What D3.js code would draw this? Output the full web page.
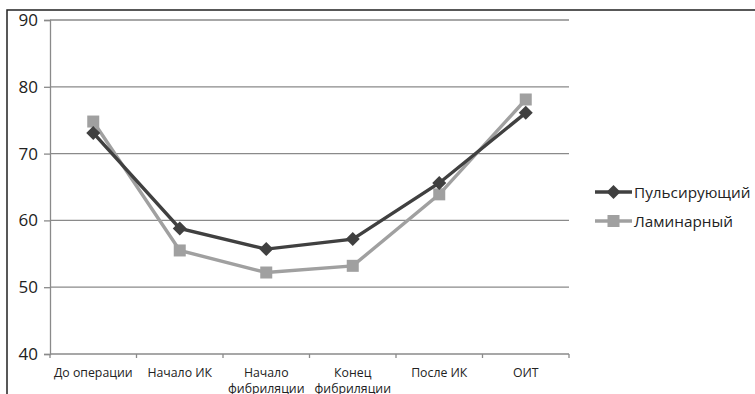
<!DOCTYPE html>
<html><head><meta charset="utf-8">
<script src="https://cdn.jsdelivr.net/npm/d3@7"></script>
<style>body{margin:0;background:#fff;} svg{display:block;}</style>
</head><body>
<svg id="c" width="755" height="394"></svg>
<script>
const categories = [["До операции"],["Начало ИК"],["Начало","фибриляции"],["Конец","фибриляции"],["После ИК"],["ОИТ"]];
const pulsating = [73.1, 58.8, 55.7, 57.2, 65.6, 76.1];
const laminar = [74.8, 55.5, 52.2, 53.2, 63.9, 78.1];
const seriesNames = ["Пульсирующий","Ламинарный"];
const yTicks = [40,50,60,70,80,90];

const svg = d3.select("#c");
const font = "'Open Sans', 'Noto Sans', sans-serif";
// outer border
svg.append("path").attr("d","M7,394 V10 H755").attr("fill","none").attr("stroke","#222").attr("stroke-width",1.5);

const x = d3.scaleBand().domain(d3.range(categories.length)).range([50,569]);
const y = d3.scaleLinear().domain([40,90]).range([354,20]);

// gridlines
svg.append("g").selectAll("line").data(yTicks.slice(1)).join("line")
  .attr("x1",50).attr("x2",569).attr("y1",d=>y(d)).attr("y2",d=>y(d))
  .attr("stroke","#8a8a8a").attr("stroke-width",1.3);

// y axis
const ya = svg.append("g").attr("transform","translate(50,0)")
  .call(d3.axisLeft(y).tickValues(yTicks).tickSize(6).tickPadding(6));
ya.select(".domain").attr("stroke","#8a8a8a").attr("stroke-width",1.3);
ya.selectAll(".tick line").attr("stroke","#8a8a8a").attr("stroke-width",1.3);
ya.selectAll("text").attr("font-family",font).attr("font-size",17).attr("fill","#222");

// x axis
const xa = svg.append("g").attr("transform","translate(0,354)");
xa.append("line").attr("x1",50).attr("x2",569).attr("stroke","#8a8a8a").attr("stroke-width",1.3);
const bounds = d3.range(categories.length+1).map(i=> i<categories.length ? x(i) : x(i-1)+x.bandwidth());
xa.selectAll("line.t").data(bounds).join("line").attr("class","t")
  .attr("x1",d=>d).attr("x2",d=>d).attr("y1",0).attr("y2",4)
  .attr("stroke","#8a8a8a").attr("stroke-width",1.3);
const labelRows = [];
categories.forEach((d,i)=>d.forEach((s,k)=>labelRows.push({i,k,s})));
xa.selectAll("text").data(labelRows).join("text")
  .attr("x",d=>x(d.i)+x.bandwidth()/2).attr("y",d=>23+d.k*16)
  .attr("text-anchor","middle").attr("font-family",font).attr("font-size",12.3).attr("fill","#222")
  .text(d=>d.s);

const cx = i => x(i)+x.bandwidth()/2;
const line = d3.line().x((d,i)=>cx(i)).y(d=>y(d));
const colors = ["#404040","#a0a0a0"];
const dia = "M0,-7L7,0L0,7L-7,0Z";

// laminar series
svg.append("path").datum(laminar).attr("d",line).attr("fill","none").attr("stroke",colors[1]).attr("stroke-width",3.4);
svg.append("g").selectAll("rect").data(laminar).join("rect")
  .attr("x",(d,i)=>cx(i)-6).attr("y",d=>y(d)-6).attr("width",12).attr("height",12).attr("fill",colors[1]);
// pulsating series
svg.append("path").datum(pulsating).attr("d",line).attr("fill","none").attr("stroke",colors[0]).attr("stroke-width",3.4);
svg.append("g").selectAll("path").data(pulsating).join("path")
  .attr("d",dia).attr("transform",(d,i)=>`translate(${cx(i)},${y(d)})`).attr("fill",colors[0]);

// legend
const lg = svg.append("g");
const ly = [192, 221];
seriesNames.forEach((n,i)=>{
  lg.append("line").attr("x1",595).attr("x2",632).attr("y1",ly[i]).attr("y2",ly[i]).attr("stroke",colors[i]).attr("stroke-width",3.4);
  if(i===0) lg.append("path").attr("d",dia).attr("transform",`translate(613.5,${ly[i]})`).attr("fill",colors[0]);
  else lg.append("rect").attr("x",607.5).attr("y",ly[i]-6).attr("width",12).attr("height",12).attr("fill",colors[1]);
  lg.append("text").attr("x",634).attr("y",ly[i]+5.5).attr("font-family",font).attr("font-size",15.3).attr("fill","#222").text(n);
});
</script>
</body></html>
